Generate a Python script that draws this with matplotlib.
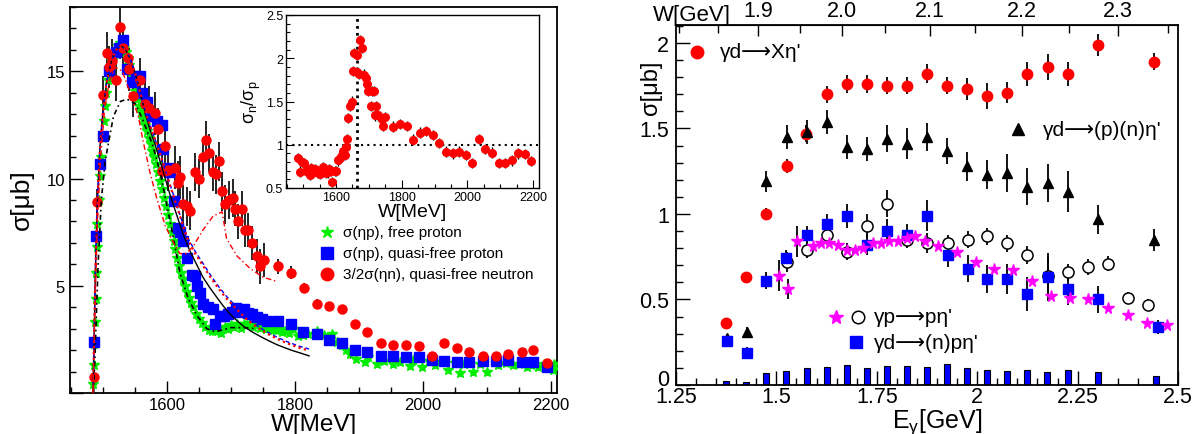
import numpy as np
import matplotlib
matplotlib.use("Agg")
import matplotlib.pyplot as plt
from matplotlib.ticker import MultipleLocator, FixedLocator
from matplotlib.transforms import ScaledTranslation

plt.rcParams['font.family'] = ['Liberation Sans', 'DejaVu Sans']
plt.rcParams['mathtext.fontset'] = 'custom'
plt.rcParams['mathtext.rm'] = 'Liberation Sans'
plt.rcParams['mathtext.it'] = 'Liberation Sans'

# ---------------- left panel data (W [MeV], sigma [mub]) ----------------
free_W = [1484, 1485, 1486, 1487, 1488, 1489, 1490, 1491, 1493, 1495, 1497, 1499, 1501, 1503, 1505,
          1508, 1511, 1514, 1517, 1520, 1523, 1526, 1529, 1532, 1535, 1538, 1541, 1544, 1547, 1550,
          1553, 1556, 1559, 1562, 1565, 1568, 1571, 1574, 1577, 1580, 1583, 1586, 1589, 1592, 1595,
          1598, 1601, 1604, 1607, 1610, 1613, 1616, 1619, 1622, 1625, 1628, 1631, 1634, 1637, 1640,
          1645, 1650, 1655, 1660, 1665, 1670, 1675, 1680, 1685, 1690, 1695, 1700, 1705, 1710, 1715,
          1720, 1725, 1730, 1735, 1740, 1745, 1750, 1755, 1760, 1765, 1770, 1775, 1780, 1785, 1790,
          1797, 1805, 1813, 1820, 1834, 1845, 1858, 1866, 1873, 1880, 1886, 1895, 1909, 1915, 1928,
          1940, 1953, 1965, 1980, 1985, 1998, 2010, 2019, 2030, 2039, 2050, 2059, 2065, 2078, 2090,
          2101, 2117, 2130, 2141, 2150, 2163, 2170, 2181, 2190, 2203, 2206]
free_S = [0.4, 1.3, 2.3, 3.3, 4.4, 5.6, 6.8, 7.9, 9.0, 10.1, 11.0, 11.9, 12.7, 13.4, 14.0,
          14.6, 15.1, 15.5, 15.8, 16.0, 16.2, 16.3, 16.2, 16.1, 15.9, 15.6, 15.3, 14.9, 14.5, 14.1,
          13.7, 13.4, 13.1, 12.8, 12.5, 12.2, 11.9, 11.6, 11.3, 11.0, 10.7, 10.3, 9.9, 9.5, 9.1,
          8.7, 8.3, 7.9, 7.5, 7.1, 6.7, 6.3, 5.9, 5.6, 5.3, 5.0, 4.7, 4.45, 4.2, 4.0,
          3.7, 3.45, 3.25, 3.1, 2.95, 2.9, 2.9, 3.05, 2.8, 3.1, 3.0, 3.15, 3.1, 3.2, 3.05,
          3.2, 3.15, 3.25, 3.1, 3.2, 3.05, 3.1, 3.0, 3.05, 2.95, 2.95, 3.0, 2.85, 2.9, 2.8,
          3.0, 2.65, 2.7, 2.75, 2.9, 2.7, 2.75, 2.4, 2.25, 2.0, 1.8, 1.6, 1.45, 1.7, 1.35,
          1.5, 1.35, 1.45, 1.26, 1.55, 1.2, 1.5, 1.3, 1.45, 1.07, 1.4, 0.93, 1.35, 1.0, 1.35,
          1.0, 1.3, 1.4, 1.3, 1.35, 1.2, 1.3, 1.2, 1.35, 1.07, 1.35]

qfp_W = [1486, 1489, 1495, 1500, 1509, 1520, 1525, 1531, 1537, 1545, 1552, 1557, 1561, 1569, 1577,
         1584, 1592, 1594, 1601, 1605, 1611, 1617, 1620, 1625, 1631, 1639, 1644, 1646, 1652, 1656,
         1664, 1671, 1675, 1683, 1689, 1695, 1701, 1707, 1714, 1720, 1727, 1733, 1741, 1748, 1756,
         1774, 1794, 1813, 1834, 1853, 1873, 1894, 1913, 1934, 1953, 1973, 1994, 2014, 2033, 2053,
         2073, 2094, 2114, 2133, 2155, 2173, 2194]
qfp_S = [2.4, 7.3, 10.7, 12.0, 15.0, 15.9, 16.1, 16.45, 15.1, 14.5, 14.8, 14.8, 14.0, 13.55, 12.9,
         12.7, 12.5, 11.4, 10.5, 10.3, 8.95, 7.7, 7.5, 7.1, 6.3, 5.5, 5.45, 5.0, 4.65, 4.15,
         4.0, 3.9, 3.2, 3.6, 3.6, 3.7, 3.8, 3.95, 3.8, 3.9, 3.75, 3.7, 3.55, 3.45, 3.35,
         3.35, 3.2, 2.85, 2.75, 2.45, 2.33, 2.0, 1.9, 1.73, 1.73, 1.7, 1.7, 1.55, 1.5, 1.45,
         1.45, 1.5, 1.5, 1.55, 1.45, 1.45, 1.2]

qfn_W = [1486, 1490, 1500, 1506, 1509, 1514, 1520, 1527, 1531, 1539, 1541, 1547, 1558, 1566, 1571,
         1581, 1586, 1592, 1597, 1602, 1612, 1617, 1620, 1625, 1631, 1636, 1644, 1650, 1656, 1661,
         1666, 1671, 1676, 1681, 1686, 1691, 1697, 1703, 1706, 1711, 1717, 1722, 1727, 1733, 1741,
         1745, 1752, 1774, 1794, 1814, 1834, 1853, 1873, 1894, 1913, 1934, 1953, 1973, 1994, 2014,
         2033, 2053, 2073, 2094, 2114, 2133, 2155, 2173, 2194]
qfn_S = [0.75, 8.9, 13.9, 15.85, 15.2, 15.5, 14.6, 17.06, 16.1, 15.6, 15.1, 13.85, 14.6, 13.5, 13.3,
         13.05, 12.3, 10.35, 11.5, 10.4, 10.5, 9.8, 10.05, 8.8, 8.7, 8.5, 10.3, 10.0, 11.0, 11.8,
         11.2, 10.3, 10.2, 10.8, 9.4, 8.8, 9.0, 9.1, 8.6, 8.0, 8.6, 7.6, 7.6, 7.0, 6.4,
         5.9, 6.2, 5.9, 5.6, 4.9, 4.15, 4.06, 3.9, 3.2, 2.85, 2.33, 2.25, 2.25, 2.2, 1.73,
         2.33, 2.1, 1.9, 1.73, 1.73, 1.8, 1.9, 2.0, 1.4]
qfn_E = [0.3, 0.6, 0.9, 1.0, 1.0, 1.0, 1.0, 1.5, 1.0, 1.0, 1.0, 1.0, 1.0, 1.0, 1.0,
         1.0, 1.0, 1.0, 1.0, 1.0, 1.0, 1.0, 1.0, 0.9, 0.9, 0.9, 0.9, 0.9, 0.9, 0.9,
         0.9, 0.9, 0.9, 0.9, 0.9, 0.9, 0.9, 0.9, 0.8, 0.8, 0.8, 0.8, 0.8, 0.8, 0.8,
         0.8, 0.8, 0.35, 0.3, 0.25, 0.25, 0.2, 0.2, 0.2, 0.2, 0.15, 0.15, 0.15, 0.15, 0.15,
         0.15, 0.15, 0.15, 0.15, 0.15, 0.15, 0.15, 0.15, 0.15]

# fit curves
fit_solid_W = [1484, 1486, 1488, 1491, 1495, 1500, 1506, 1513, 1520, 1528, 1535, 1542, 1550, 1558, 1566,
               1574, 1581, 1594, 1605, 1615, 1625, 1636, 1646, 1656, 1667, 1678, 1688, 1698, 1710, 1720,
               1733, 1745, 1758, 1772, 1785, 1797, 1810, 1822]
fit_solid_S = [0, 3, 6, 9, 11.5, 13.3, 14.6, 15.5, 16.0, 16.2, 16.0, 15.6, 14.9, 14.0, 13.0,
               12.2, 11.6, 10.3, 9.2, 8.3, 7.4, 6.6, 6.0, 5.4, 4.9, 4.45, 4.05, 3.7, 3.35, 3.1,
               2.85, 2.65, 2.45, 2.25, 2.1, 1.97, 1.85, 1.73]
fit_qfp_W = [1484, 1486, 1488, 1491, 1495, 1500, 1506, 1513, 1520, 1528, 1535, 1542, 1550, 1558, 1566,
             1574, 1584, 1595, 1607, 1619, 1631, 1644, 1657, 1670, 1681, 1693, 1709, 1725, 1740, 1756,
             1772, 1787, 1805, 1822]
fit_qfp_S = [0, 3, 6, 9, 11.5, 13.3, 14.6, 15.5, 16.0, 16.2, 16.0, 15.6, 14.9, 14.0, 13.1,
             12.4, 11.6, 10.6, 9.5, 8.4, 7.3, 6.6, 6.0, 5.4, 4.95, 4.5, 4.0, 3.5, 3.15, 2.85,
             2.6, 2.4, 2.2, 2.05]
fit_qfpr_S = [0, 3, 6, 9, 11.5, 13.3, 14.6, 15.5, 16.0, 16.2, 16.0, 15.6, 14.9, 14.0, 13.1,
              12.4, 11.6, 10.6, 9.45, 8.35, 7.25, 6.5, 5.9, 5.3, 4.85, 4.4, 3.9, 3.42, 3.08, 2.78,
              2.53, 2.33, 2.13, 1.97]
fit_free_W = [1485, 1488, 1492, 1497, 1503, 1509, 1516, 1527, 1537, 1550, 1561, 1569, 1577, 1589, 1600,
              1610, 1620, 1633, 1647, 1662, 1675, 1688, 1700, 1720, 1740]
fit_free_S = [0, 2.5, 6.0, 9.0, 10.8, 11.8, 12.9, 13.6, 13.7, 13.5, 12.8, 12.2, 11.6, 10.3, 8.7,
              7.2, 5.6, 4.4, 3.6, 3.0, 2.85, 2.95, 3.05, 3.05, 3.0]
fit_n_W = [1484, 1487, 1491, 1496, 1502, 1510, 1519, 1530, 1542, 1555, 1562, 1573, 1584, 1597, 1610,
           1620, 1630, 1641, 1656, 1672, 1686, 1688, 1693, 1709, 1730, 1750, 1772]
fit_n_S = [0, 4, 8, 11, 13.2, 14.6, 15.2, 15.0, 14.0, 12.9, 11.8, 10.3, 9.05, 7.8, 7.0,
           6.5, 6.5, 6.85, 7.6, 8.25, 8.45, 8.1, 7.2, 6.4, 5.8, 5.4, 5.2]

# inset: ratio sigma_n / sigma_p
rat_W = [1485, 1491, 1498, 1503, 1510, 1516, 1520, 1525, 1530, 1535, 1540, 1545, 1550, 1555, 1560,
         1565, 1570, 1575, 1580, 1585, 1587, 1597, 1600, 1607, 1612, 1617, 1622, 1627, 1630, 1634,
         1637, 1643, 1650, 1653, 1655, 1663, 1665, 1670, 1673, 1680, 1685, 1691, 1695, 1698, 1707,
         1709, 1716, 1719, 1721, 1727, 1739, 1744, 1749, 1774, 1795, 1815, 1835, 1855, 1875, 1895,
         1915, 1935, 1955, 1975, 1995, 2015, 2035, 2055, 2075, 2095, 2115, 2135, 2155, 2175, 2195]
rat_R = [0.85, 0.69, 0.80, 0.79, 0.70, 0.71, 0.65, 0.73, 0.68, 0.72, 0.70, 0.67, 0.66, 0.69, 0.74,
         0.70, 0.67, 0.68, 0.72, 0.70, 0.57, 0.70, 0.70, 0.82, 0.85, 0.88, 0.93, 0.88, 0.97, 1.07,
         1.31, 1.45, 1.50, 1.85, 2.06, 2.04, 1.84, 1.82, 2.21, 2.12, 1.81, 1.77, 1.70, 1.62, 1.45,
         1.62, 1.62, 1.34, 1.45, 1.34, 1.30, 1.22, 1.32, 1.21, 1.24, 1.22, 1.06, 1.14, 1.16, 1.11,
         1.02, 0.92, 0.90, 0.92, 0.88, 0.79, 1.07, 0.95, 0.91, 0.79, 0.79, 0.82, 0.90, 0.89, 0.81]
rat_line_W = 1665

# ---------------- right panel data (E_gamma [GeV], sigma [mub]) ----------------
X_E = [1.375, 1.424, 1.474, 1.526, 1.574, 1.626, 1.676, 1.726, 1.775, 1.825, 1.875, 1.925, 1.975,
       2.024, 2.074, 2.124, 2.176, 2.226, 2.301, 2.44]
X_S = [0.362, 0.63, 1.0, 1.28, 1.47, 1.70, 1.76, 1.76, 1.75, 1.75, 1.82, 1.75, 1.73,
       1.69, 1.71, 1.82, 1.86, 1.82, 1.99, 1.89]
X_ERR = [0.02, 0.03, 0.035, 0.04, 0.05, 0.05, 0.05, 0.05, 0.05, 0.05, 0.055, 0.05, 0.065,
         0.075, 0.06, 0.07, 0.075, 0.07, 0.065, 0.05]

PN_E = [1.377, 1.427, 1.474, 1.526, 1.576, 1.626, 1.676, 1.726, 1.775, 1.825, 1.875, 1.925, 1.975,
        2.024, 2.074, 2.124, 2.176, 2.226, 2.301, 2.44]
PN_S = [0.275, 0.31, 1.19, 1.45, 1.48, 1.54, 1.39, 1.38, 1.44, 1.41, 1.45, 1.37, 1.28,
        1.23, 1.24, 1.16, 1.18, 1.13, 0.97, 0.85]
PN_ERR = [0.02, 0.03, 0.06, 0.07, 0.07, 0.07, 0.07, 0.07, 0.08, 0.09, 0.08, 0.075, 0.085,
          0.085, 0.11, 0.11, 0.11, 0.12, 0.085, 0.065]

GP_E = [1.526, 1.576, 1.626, 1.676, 1.726, 1.775, 1.825, 1.875, 1.927, 1.977, 2.024, 2.074, 2.124,
        2.176, 2.226, 2.276, 2.326, 2.376, 2.426]
GP_S = [0.72, 0.79, 0.88, 0.78, 0.93, 1.06, 0.85, 0.83, 0.83, 0.85, 0.87, 0.83, 0.76,
        0.64, 0.66, 0.69, 0.71, 0.51, 0.47]
GP_ERR = [0.06, 0.05, 0.06, 0.05, 0.07, 0.08, 0.05, 0.06, 0.05, 0.05, 0.05, 0.05, 0.05,
          0.11, 0.05, 0.045, 0.045, 0.035, 0.035]

NP_E = [1.377, 1.427, 1.474, 1.524, 1.576, 1.626, 1.676, 1.726, 1.775, 1.825, 1.875, 1.927, 1.977,
        2.024, 2.074, 2.124, 2.176, 2.226, 2.301, 2.45]
NP_S = [0.26, 0.19, 0.61, 0.74, 0.88, 0.94, 0.99, 0.82, 0.90, 0.88, 0.99, 0.76, 0.68,
        0.62, 0.62, 0.53, 0.63, 0.56, 0.50, 0.34]
NP_ERR = [0.02, 0.03, 0.05, 0.05, 0.05, 0.06, 0.07, 0.06, 0.07, 0.06, 0.09, 0.07, 0.08,
          0.08, 0.09, 0.10, 0.14, 0.09, 0.08, 0.04]

ST_E = [1.506, 1.529, 1.551, 1.591, 1.611, 1.631, 1.653, 1.676, 1.696, 1.716, 1.740, 1.760, 1.780,
        1.803, 1.825, 1.845, 1.870, 1.903, 1.950, 1.997, 2.042, 2.089, 2.136, 2.184, 2.231, 2.276,
        2.326, 2.376, 2.423, 2.473]
ST_S = [0.64, 0.56, 0.84, 0.81, 0.83, 0.83, 0.82, 0.79, 0.79, 0.80, 0.83, 0.83, 0.84,
        0.84, 0.86, 0.87, 0.84, 0.81, 0.78, 0.72, 0.68, 0.67, 0.61, 0.52, 0.51, 0.50,
        0.45, 0.41, 0.36, 0.35]
ST_ERR = [0.09, 0.06, 0.09] + [0.0] * 27

SYS_E = [1.375, 1.425, 1.475, 1.525, 1.575, 1.625, 1.675, 1.725, 1.775, 1.825, 1.875, 1.925, 1.975,
         2.025, 2.075, 2.125, 2.175, 2.225, 2.30, 2.445]
SYS_H = [0.025, 0.02, 0.07, 0.08, 0.10, 0.105, 0.115, 0.10, 0.11, 0.11, 0.105, 0.12, 0.10,
         0.09, 0.08, 0.085, 0.075, 0.085, 0.075, 0.055]

W_TICKS = [1.9, 2.0, 2.1, 2.2, 2.3]
M_N = 0.938

RED = '#ff0000'
BLUE = '#0000ff'
GREEN = '#00ee00'
MAG = '#ff00ff'
ARROW_FONT = ['Liberation Sans', 'DejaVu Sans']

fig = plt.figure(figsize=(11.95, 4.35), dpi=100)

# ======================= LEFT PANEL =======================
ax = fig.add_axes([70 / 1195, 1 - 394 / 435, (557 - 70) / 1195, (394 - 8) / 435])
ax.set_xlim(1448, 2210)
ax.set_ylim(0, 18)

ax.errorbar(free_W, free_S, yerr=0.15, fmt='none', ecolor='black', elinewidth=0.8, zorder=2)
ax.plot(free_W, free_S, ls='none', marker='*', color=GREEN, ms=7, mec=GREEN, zorder=3)
ax.errorbar(qfp_W, qfp_S, yerr=0.2, fmt='none', ecolor='black', elinewidth=0.8, zorder=2)
ax.plot(qfp_W, qfp_S, ls='none', marker='s', color=BLUE, ms=6.5, mec=BLUE, zorder=4)
ax.errorbar(qfn_W, qfn_S, yerr=qfn_E, fmt='none', ecolor='black', elinewidth=1.2, zorder=2)
ax.plot(qfn_W, qfn_S, ls='none', marker='o', color=RED, ms=6.5, mec=RED, zorder=5)

ax.plot(fit_solid_W, fit_solid_S, color='black', lw=1.0, zorder=6)
ax.plot(fit_qfp_W, fit_qfp_S, color=BLUE, lw=1.0, ls=(0, (3, 2)), zorder=6)
ax.plot(fit_qfp_W, fit_qfpr_S, color=RED, lw=1.6, ls=(0, (1, 1.5)), zorder=6)
ax.plot(fit_free_W, fit_free_S, color='black', lw=1.2, ls=(0, (3, 2, 1, 2)), zorder=6)
ax.plot(fit_n_W, fit_n_S, color=RED, lw=1.0, ls=(0, (4, 2, 1, 2)), zorder=6)

ax.xaxis.set_major_locator(FixedLocator([1600, 1800, 2000, 2200]))
ax.xaxis.set_minor_locator(MultipleLocator(50))
ax.yaxis.set_major_locator(FixedLocator([0, 5, 10, 15]))
ax.yaxis.set_minor_locator(MultipleLocator(1))
ax.tick_params(which='both', direction='in', top=False, right=False, labelsize=12, width=1.0)
ax.tick_params(which='major', length=9)
ax.tick_params(which='minor', length=4.5)
ax.tick_params(axis='x', pad=3)
ax.set_yticklabels(['', '5', '10', '15'])
for s in ax.spines.values():
    s.set_linewidth(1.3)

fig.text(314 / 1195, 1 - 425 / 435, 'W[MeV]', ha='center', va='center', fontsize=17.5)
fig.text(22 / 1195, 1 - 200 / 435, 'σ[μb]', ha='center', va='center', fontsize=19, rotation=90)

# legend (left)
ax.plot([1850], [7.5], ls='none', marker='*', color=GREEN, ms=9)
ax.plot([1850], [6.53], ls='none', marker='s', color=BLUE, ms=8)
ax.plot([1850], [5.55], ls='none', marker='o', color=RED, ms=9)
ax.text(1875, 7.5, 'σ(ηp), free proton', fontsize=11, va='center')
ax.text(1875, 6.53, 'σ(ηp), quasi-free proton', fontsize=11, va='center')
ax.text(1875, 5.55, '3/2σ(ηn), quasi-free neutron', fontsize=11, va='center')

# ======================= INSET =======================
ai = fig.add_axes([286 / 1195, 1 - 189 / 435, (539 - 286) / 1195, (189 - 16) / 435], zorder=10)
ai.set_facecolor('white')
ai.set_xlim(1448, 2218)
ai.set_ylim(0.5, 2.5)
ai.errorbar(rat_W, rat_R, yerr=0.06, fmt='none', ecolor='black', elinewidth=1.0, zorder=2)
ai.plot(rat_W, rat_R, ls='none', marker='o', color=RED, ms=5.5, mec=RED, zorder=3)
ai.axhline(1.0, color='black', ls=(0, (1, 2)), lw=1.5, zorder=1)
ai.axvline(rat_line_W, color='black', ls=(0, (1, 1.5)), lw=2.0, zorder=1)
ai.xaxis.set_major_locator(FixedLocator([1600, 1800, 2000, 2200]))
ai.xaxis.set_minor_locator(MultipleLocator(50))
ai.yaxis.set_major_locator(FixedLocator([0.5, 1.0, 1.5, 2.0, 2.5]))
ai.yaxis.set_minor_locator(MultipleLocator(0.1))
ai.set_yticklabels(['0.5', '1', '1.5', '2', '2.5'])
ai.tick_params(which='both', direction='in', top=False, right=False, labelsize=9, width=0.8, pad=2)
ai.tick_params(which='major', length=6)
ai.tick_params(which='minor', length=3)
ai.set_xlabel('W[MeV]', fontsize=14, labelpad=0)
ai.set_ylabel('σ$_{n}$/σ$_{p}$', fontsize=13, labelpad=2)
for s in ai.spines.values():
    s.set_linewidth(1.0)

# ======================= RIGHT PANEL =======================
ar = fig.add_axes([676 / 1195, 1 - 386 / 435, (1178 - 676) / 1195, (386 - 26) / 435])
ar.set_xlim(1.25, 2.5)
ar.set_ylim(0, 2.105)

ar.bar(SYS_E, SYS_H, width=0.015, color=BLUE, edgecolor='black', linewidth=0.8, zorder=2)

ar.errorbar(X_E, X_S, yerr=X_ERR, fmt='none', ecolor='black', elinewidth=1.3, zorder=3)
ar.plot(X_E, X_S, ls='none', marker='o', color=RED, ms=7.5, mec=RED, zorder=5)
ar.errorbar(PN_E, PN_S, yerr=PN_ERR, fmt='none', ecolor='black', elinewidth=1.3, zorder=3)
ar.plot(PN_E, PN_S, ls='none', marker='^', color='black', ms=7, zorder=5)
ar.errorbar(GP_E, GP_S, yerr=GP_ERR, fmt='none', ecolor='black', elinewidth=1.3, zorder=3)
ar.plot(GP_E, GP_S, ls='none', marker='o', mfc='white', mec='black', mew=1.1, ms=8, zorder=5)
ar.errorbar(NP_E, NP_S, yerr=NP_ERR, fmt='none', ecolor='black', elinewidth=1.3, zorder=3)
ar.plot(NP_E, NP_S, ls='none', marker='s', color=BLUE, ms=6.5, mec=BLUE, zorder=5)
ar.errorbar(ST_E, ST_S, yerr=ST_ERR, fmt='none', ecolor='black', elinewidth=1.3, zorder=3)
ar.plot(ST_E, ST_S, ls='none', marker='*', color=MAG, ms=8.5, mec=MAG, zorder=6)

ar.xaxis.set_major_locator(FixedLocator([1.25, 1.5, 1.75, 2.0, 2.25, 2.5]))
ar.xaxis.set_minor_locator(MultipleLocator(0.05))
ar.set_xticklabels(['1.25', '1.5', '1.75', '2', '2.25', '2.5'])
ar.yaxis.set_major_locator(FixedLocator([0, 0.5, 1.0, 1.5, 2.0]))
ar.yaxis.set_minor_locator(MultipleLocator(0.1))
ar.set_yticklabels(['0', '0.5', '1', '1.5', '2'])
ar.tick_params(which='both', direction='in', top=False, right=False, labelsize=15.5, width=1.0)
ar.tick_params(which='major', length=10)
ar.tick_params(which='minor', length=5)
ar.tick_params(axis='x', pad=1)
ar.tick_params(axis='y', pad=5)
for s in ar.spines.values():
    s.set_linewidth(1.3)
zero_lbl = ar.get_yticklabels()[0]
zero_lbl.set_transform(zero_lbl.get_transform() + ScaledTranslation(0, 6 / 72, fig.dpi_scale_trans))

def e2w(e):
    e = np.asarray(e, dtype=float)
    return np.sqrt(np.clip(M_N ** 2 + 2 * M_N * e, 1e-9, None))

def w2e(w):
    w = np.asarray(w, dtype=float)
    return (w ** 2 - M_N ** 2) / (2 * M_N)

top = ar.secondary_xaxis('top', functions=(e2w, w2e))
top.xaxis.set_major_locator(FixedLocator(W_TICKS))
top.xaxis.set_minor_locator(MultipleLocator(0.05))
top.set_xticklabels(['1.9', '2.0', '2.1', '2.2', '2.3'])
top.tick_params(which='both', direction='in', labelsize=15.5, width=1.0, pad=3)
top.tick_params(which='major', length=8)
top.tick_params(which='minor', length=6)
fig.text(692 / 1195, 1 - 15 / 435, 'W[GeV]', ha='center', va='center', fontsize=16)

fig.text(651 / 1195, 1 - 88 / 435, 'σ[μb]', ha='center', va='center', fontsize=17, rotation=90)
fig.text(937 / 1195, 1 - 422 / 435, 'E$_{γ}$[GeV]', ha='center', va='center', fontsize=18)

# legend (right)
ar.plot([1.302], [1.95], ls='none', marker='o', color=RED, ms=9)
ar.text(1.359, 1.95, "γd⟶Xη'", fontsize=15, va='center', family=ARROW_FONT)
ar.plot([2.101], [1.495], ls='none', marker='^', color='black', ms=9)
ar.text(2.164, 1.495, "γd⟶(p)(n)η'", fontsize=15, va='center', family=ARROW_FONT)
ar.plot([1.648], [0.40], ls='none', marker='*', color=MAG, ms=10)
ar.plot([1.703], [0.40], ls='none', marker='o', mfc='white', mec='black', mew=1.1, ms=9)
ar.text(1.743, 0.40, "γp⟶pη'", fontsize=15, va='center', family=ARROW_FONT)
ar.plot([1.698], [0.25], ls='none', marker='s', color=BLUE, ms=8)
ar.text(1.743, 0.25, "γd⟶(n)pη'", fontsize=15, va='center', family=ARROW_FONT)

fig.savefig('out.png', dpi=100)
